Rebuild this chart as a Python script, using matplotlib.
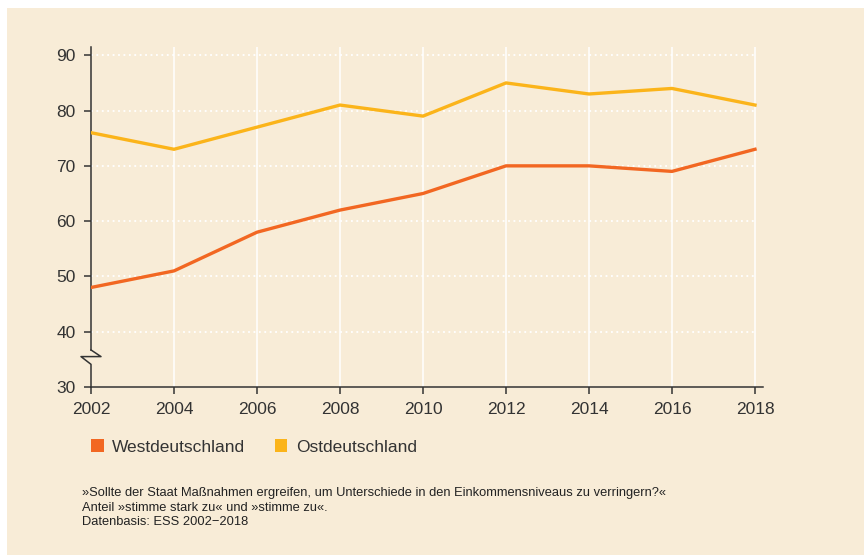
import numpy as np
import matplotlib
matplotlib.use("Agg")
from matplotlib import pyplot as plt
from matplotlib import transforms
from matplotlib.patches import Patch, Rectangle

years = [2002, 2004, 2006, 2008, 2010, 2012, 2014, 2016, 2018]
west = [48, 51, 58, 62, 65, 70, 70, 69, 73]
east = [76, 73, 77, 81, 79, 85, 83, 84, 81]
y_ticks = [30, 40, 50, 60, 70, 80, 90]
series_names = ["Westdeutschland", "Ostdeutschland"]
note = ("»Sollte der Staat Maßnahmen ergreifen, um Unterschiede in den Einkommensniveaus zu verringern?«\n"
        "Anteil »stimme stark zu« und »stimme zu«.\n"
        "Datenbasis: ESS 2002\u22122018")

bg = "#F8ECD7"
c_west = "#F26722"
c_east = "#FBB41A"
txt = "#333333"

plt.rcParams['font.family'] = ['Liberation Sans', 'DejaVu Sans']

fig = plt.figure(figsize=(8.64, 5.55), dpi=100)
fig.patch.set_facecolor("white")
fig.patches.append(Rectangle((7 / 864, -0.1), 1.1, 1.1 - 8 / 555, transform=fig.transFigure,
                             facecolor=bg, edgecolor="none", zorder=-10))

ax = fig.add_axes([91 / 864, 1 - 387 / 555, (763 - 91) / 864, (387 - 47) / 555])
ax.patch.set_alpha(0)

ax.set_xlim(2002, 2018 + 8 / 664 * 16)
ax.set_ylim(30, 91.5)

# grid
for x in years[1:]:
    ax.axvline(x, color="white", lw=1.1, zorder=1)
ax.hlines(y_ticks[1:], years[0], years[-1], colors="white", lw=1.3,
          linestyles=(0, (1, 2)), zorder=1)

ax.plot(years, east, color=c_east, lw=2.4, zorder=3, solid_joinstyle="miter")
ax.plot(years, west, color=c_west, lw=2.4, zorder=3, solid_joinstyle="miter")

for s in ["top", "right", "left"]:
    ax.spines[s].set_visible(False)
ax.spines["bottom"].set_color(txt)
ax.spines["bottom"].set_linewidth(1.1)

# left spine with break mark
trans = transforms.blended_transform_factory(ax.transAxes, ax.transData)
dx = 10 / 672
ax.plot([0, 0], [36.7, 91.5], color=txt, lw=1.1, transform=trans, clip_on=False)
ax.plot([0, dx, -dx, 0, 0], [36.7, 35.5, 35.5, 34.1, 30],
        color=txt, lw=1.1, transform=trans, clip_on=False)

ax.set_xticks(years)
ax.set_yticks(y_ticks)
ax.tick_params(axis="both", colors=txt, labelsize=12.5, length=5, width=1.1,
               direction="out")
ax.tick_params(axis="x", pad=6)
ax.tick_params(axis="y", pad=6)

handles = [Patch(facecolor=c_west, edgecolor="none"),
           Patch(facecolor=c_east, edgecolor="none")]
fig.legend(handles, series_names, loc="center left", bbox_to_anchor=(91 / 864, 1 - 447 / 555),
           ncol=2, frameon=False, fontsize=12.5, handlelength=0.72, handleheight=0.72,
           handletextpad=0.5, columnspacing=1.7, labelcolor=txt,
           borderpad=0, borderaxespad=0)

fig.text(82 / 864, 1 - 487 / 555, note, fontsize=9.3, color="#222222", va="top",
         linespacing=1.3)

fig.savefig("out.png", dpi=100, facecolor=fig.get_facecolor())
